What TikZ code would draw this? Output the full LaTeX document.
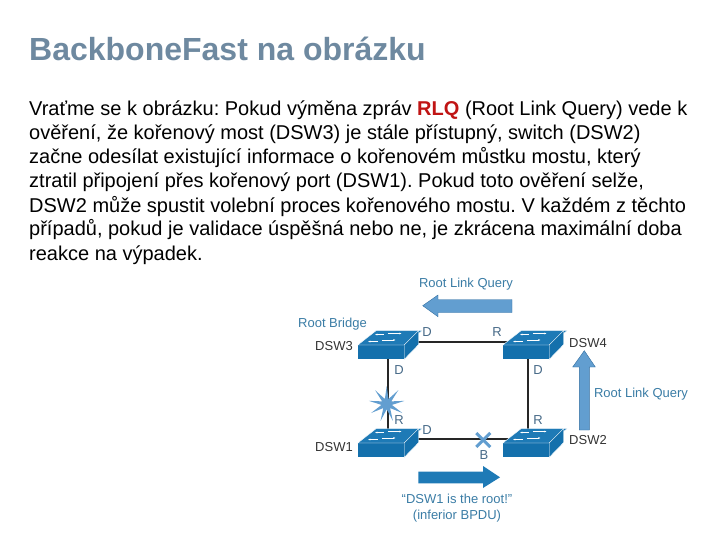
\documentclass[tikz,border=0pt]{standalone}
\usepackage{fontspec}
\setmainfont{Liberation Sans}
\usepackage{xcolor}
\usetikzlibrary{arrows.meta,positioning,calc,backgrounds,shapes.geometric,shapes.arrows,shapes.misc}
\definecolor{cvtitle}{RGB}{110,137,160}
\definecolor{cvred}{RGB}{192,20,20}
\definecolor{cvsw}{RGB}{20,112,172}
\definecolor{cvtop}{RGB}{30,122,182}
\definecolor{cvarrow}{RGB}{98,158,208}
\definecolor{cvedge}{RGB}{50,110,160}
\definecolor{cvlabel}{RGB}{58,124,165}
\definecolor{cvgray}{RGB}{70,105,135}

\begin{document}
\frenchspacing
\begin{tikzpicture}[x=1pt,y=-1pt,
  titletext/.style={font=\fontsize{32}{36}\selectfont\bfseries,text=cvtitle,anchor=west,inner sep=0pt},
  bodyline/.style={font=\fontsize{20}{24}\selectfont,anchor=base west,inner sep=0pt},
  swfront/.style={fill=cvsw,minimum width=46pt,minimum height=14pt,inner sep=0pt},
  link/.style={line width=2.2pt,draw=black!85},
  port/.style={font=\fontsize{13}{15}\selectfont,text=cvgray,inner sep=0pt},
  swname/.style={font=\fontsize{13}{15}\selectfont,text=black!80,inner sep=0pt},
  bluetext/.style={font=\fontsize{13}{16}\selectfont,text=cvlabel,inner sep=0pt,align=center},
  flow/.style={-,fill=cvarrow,draw=cvedge,line width=0.4pt},
  flowdark/.style={fill=cvtop}
]
\useasboundingbox (0,0) rectangle (720,540);
\node[titletext] (title) at (29,49) {BackboneFast na obrázku};
\node[bodyline] (l1) at (29,116) {Vraťme se k obrázku: Pokud výměna zpráv \textcolor{cvred}{\textbf{RLQ}} (Root Link Query) vede k};
\node[bodyline] (l2) at (29,140) {ověření, že kořenový most (DSW3) je stále přístupný, switch (DSW2)};
\node[bodyline] (l3) at (29,164) {začne odesílat existující informace o kořenovém můstku mostu, který};
\node[bodyline] (l4) at (29,188) {ztratil připojení přes kořenový port (DSW1). Pokud toto ověření selže,};
\node[bodyline] (l5) at (29,212) {DSW2 může spustit volební proces kořenového mostu. V každém z těchto};
\node[bodyline] (l6) at (29,236) {případů, pokud je validace úspěšná nebo ne, je zkrácena maximální doba};
\node[bodyline] (l7) at (29,260) {reakce na výpadek.};
% switches
\coordinate (c3) at (388,341.7);
\coordinate (c4) at (528.3,341.7);
\coordinate (c1) at (388,439.3);
\coordinate (c2) at (528.3,439.3);
\draw[link] (c3) -- (c4);
\draw[link] (c3) -- (c1);
\draw[link] (c4) -- (c2);
\draw[link] (c1) -- (c2);
\node[swfront] (dsw3) at (381,352.2) {};
\node[swfront] (dsw4) at (526,352.2) {};
\node[swfront] (dsw1) at (381,450.2) {};
\node[swfront] (dsw2) at (526,450.2) {};
\foreach \n in {dsw3,dsw4,dsw1,dsw2}{
  \fill[cvtop,draw=white,line width=0.4pt] (\n.north west) -- ++(18.5,-14.5) -- ++(46,0) -- (\n.north east) -- cycle;
  \fill[cvsw,draw=white,line width=0.4pt] (\n.north east) -- ++(14.5,-14.5) -- ++(0,14) -- (\n.south east) -- cycle;
  \draw[white,line width=0.6pt,-{Latex[length=2.5pt]}] ($(\n.north west)+(26,-10.5)$) -- ++(-9,0);
  \draw[white,line width=0.6pt,-{Latex[length=2.5pt]}] ($(\n.north west)+(30,-11.5)$) -- ++(14,0);
  \draw[white,line width=0.6pt,-{Latex[length=2.5pt]}] ($(\n.north west)+(20,-3.5)$) -- ++(-10,0);
  \draw[white,line width=0.6pt,-{Latex[length=2.5pt]}] ($(\n.north west)+(24,-5)$) -- ++(14,0);
}
\node[star,star points=9,star point ratio=3.4,fill=cvarrow,minimum size=36pt,inner sep=0pt] (fail) at (386.7,404) {};
\node[cross out,draw=cvarrow,line width=3pt,minimum size=11pt,inner sep=0pt] (block) at (483.3,440) {};
% arrows
\draw[flow] (512,299.5) -- (438,299.5) -- (438,295) -- (422.7,305.7) -- (438,316.7) -- (438,312.5) -- (512,312.5) -- cycle;
\draw[flow] (579.3,430) -- (579.3,367) -- (572.7,367) -- (584.3,350.7) -- (595.3,367) -- (589.3,367) -- (589.3,430) -- cycle;
\fill[flowdark] (418.3,471.7) -- (483,471.7) -- (483,466) -- (500,477.3) -- (483,488) -- (483,483.3) -- (418.3,483.3) -- cycle;
% labels
\node[bluetext] (rlq1) at (466,284) {Root Link Query};
\node[bluetext] (rb) at (332.5,324) {Root Bridge};
\node[bluetext] (rlq2) at (641,394) {Root Link Query};
\node[bluetext] (inf) at (457,508) {“DSW1 is the root!”\\(inferior BPDU)};
\node[swname] (n3) at (334,346) {DSW3};
\node[swname] (n4) at (588,343) {DSW4};
\node[swname] (n1) at (334,447) {DSW1};
\node[swname] (n2) at (588,440) {DSW2};
\node[port] (p1) at (427,332) {D};
\node[port] (p2) at (497,332) {R};
\node[port] (p3) at (399,370) {D};
\node[port] (p4) at (538,370) {D};
\node[port] (p5) at (399,420) {R};
\node[port] (p6) at (538,420) {R};
\node[port] (p7) at (427,430) {D};
\node[port] (p8) at (484,455) {B};
\end{tikzpicture}
\end{document}
